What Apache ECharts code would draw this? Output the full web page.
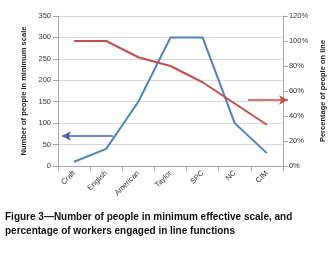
<!DOCTYPE html>
<html>
<head>
<meta charset="utf-8">
<script src="https://cdn.jsdelivr.net/npm/echarts@6/dist/echarts.min.js"></script>
<style>
  html, body { margin: 0; padding: 0; background: #fff; }
  #chart { width: 335px; height: 253px; }
</style>
</head>
<body>
<div id="chart"></div>
<script>
// data
const categories = ['Craft', 'English', 'American', 'Taylor', 'SPC', 'NC', 'CIM']
const peopleMinScale = [10, 40, 150, 300, 300, 100, 30]
const pctOnLine = [100, 100, 87, 80, 67, 50, 33]

const blue = '#4F81BD'
const red = '#C0504D'
const axisGrey = '#A6A6A6'
const labelFont = 'Liberation Sans, Arial, sans-serif'

const chart = echarts.init(document.getElementById('chart'))
chart.setOption({
  animation: false,
  grid: { left: 58, right: 47, top: 16, bottom: 87 },
  xAxis: {
    type: 'category',
    data: categories,
    boundaryGap: true,
    axisLine: { lineStyle: { color: axisGrey } },
    axisTick: { show: true, lineStyle: { color: axisGrey } },
    axisLabel: { rotate: 45, fontSize: 7.5, color: '#333', fontFamily: labelFont, margin: 6 }
  },
  yAxis: [{
    type: 'value',
    min: 0,
    max: 350,
    interval: 50,
    name: 'Number of people in minimum scale',
    nameLocation: 'middle',
    nameGap: 22,
    nameTextStyle: { fontSize: 7.5, fontWeight: 'bold', color: '#222', fontFamily: labelFont },
    axisLine: { show: true, lineStyle: { color: axisGrey } },
    axisTick: { show: true, lineStyle: { color: axisGrey } },
    axisLabel: { fontSize: 7.5, color: '#333', fontFamily: labelFont, margin: 7 },
    splitLine: { lineStyle: { color: '#D9D9D9' } }
  }, {
    type: 'value',
    min: 0,
    max: 120,
    interval: 20,
    position: 'right',
    name: 'Percentage of people on line',
    nameLocation: 'middle',
    nameGap: 35,
    nameRotate: 90,
    nameTextStyle: { fontSize: 7.5, fontWeight: 'bold', color: '#222', fontFamily: labelFont },
    axisLine: { show: true, lineStyle: { color: axisGrey } },
    axisTick: { show: true, lineStyle: { color: axisGrey } },
    axisLabel: { fontSize: 7.5, color: '#333', fontFamily: labelFont, margin: 6, formatter: '{value}%' },
    splitLine: { show: false }
  }],
  series: [{
    name: 'People in minimum scale',
    type: 'line',
    data: peopleMinScale,
    yAxisIndex: 0,
    symbol: 'none',
    lineStyle: { color: blue, width: 2 },
    markLine: {
      silent: true,
      symbol: ['none', 'arrow'],
      symbolSize: [7, 9],
      label: { show: false },
      lineStyle: { color: '#4062A8', width: 1.5, type: 'solid' },
      data: [[{ x: 113, y: 136 }, { x: 62, y: 136 }]]
    }
  }, {
    name: 'Percentage on line',
    type: 'line',
    data: pctOnLine,
    yAxisIndex: 1,
    symbol: 'none',
    lineStyle: { color: red, width: 2 },
    markLine: {
      silent: true,
      symbol: ['none', 'arrow'],
      symbolSize: [7, 9],
      label: { show: false },
      lineStyle: { color: red, width: 1.5, type: 'solid' },
      data: [[{ x: 248, y: 100 }, { x: 288, y: 100 }]]
    }
  }],
  graphic: [{
    type: 'text',
    left: 5,
    top: 210,
    style: {
      text: 'Figure 3\u2014Number of people in minimum effective scale, and\npercentage of workers engaged in line functions',
      font: 'bold 10px ' + labelFont,
      lineHeight: 14,
      fill: '#111'
    }
  }]
})
</script>
</body>
</html>
